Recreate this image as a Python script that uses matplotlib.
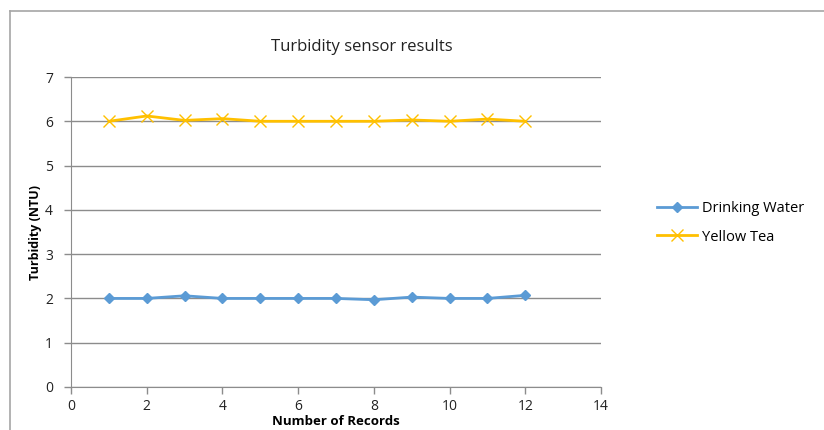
import matplotlib
matplotlib.use("Agg")
import matplotlib.pyplot as plt
from matplotlib.lines import Line2D

records = [1, 2, 3, 4, 5, 6, 7, 8, 9, 10, 11, 12]
drinking_water = [2.0, 2.0, 2.06, 2.0, 2.0, 2.0, 2.0, 1.97, 2.03, 2.0, 2.0, 2.07]
yellow_tea = [6.0, 6.12, 6.02, 6.06, 6.0, 6.0, 6.0, 6.0, 6.03, 6.0, 6.05, 6.0]

plt.rcParams['font.family'] = ['Open Sans', 'DejaVu Sans']

fig = plt.figure(figsize=(8.24, 4.30), dpi=100)
ax = fig.add_axes([71/824, 1 - 387/430, 530/824, 310/430])

ax.plot(records, drinking_water, color='#5b9bd5', marker='D', markersize=5,
        linewidth=2, label='Drinking Water')
ax.plot(records, yellow_tea, color='#ffc000', marker='x', markersize=8,
        markeredgewidth=1.0, linewidth=2, label='Yellow Tea')

ax.set_xlim(0, 14)
ax.set_ylim(0, 7)
ax.set_xticks(range(0, 15, 2))
ax.set_yticks(range(0, 8))
ax.yaxis.grid(True, color='#8c8c8c', linewidth=1)
ax.set_axisbelow(True)
for s in ['top', 'right']:
    ax.spines[s].set_visible(False)
for s in ['left', 'bottom']:
    ax.spines[s].set_color('#8c8c8c')
ax.tick_params(axis='both', colors='#8c8c8c', labelcolor='#222222',
               labelsize=10, length=5, width=1)
ax.tick_params(axis='y', pad=8)

ax.set_xlabel('Number of Records', fontsize=9.5, fontweight='bold', labelpad=1)
ax.set_ylabel('Turbidity (NTU)', fontsize=9, fontweight='bold', labelpad=2)

fig.text(362/824, 1 - 47/430, 'Turbidity sensor results', fontsize=12,
         ha='center', va='center', color='#222222')

ax.legend(loc='center left', bbox_to_anchor=(644/824, 1 - 223/430),
          bbox_transform=fig.transFigure, frameon=False, fontsize=10.5,
          handlelength=2.7, labelspacing=0.9, handletextpad=0.35)

# outer chart frame
fig.add_artist(Line2D([10/824, 10/824], [0, 1 - 11/430], color='#a6a6a6',
                      linewidth=1.2, transform=fig.transFigure))
fig.add_artist(Line2D([10/824, 1], [1 - 11/430, 1 - 11/430], color='#a6a6a6',
                      linewidth=1.2, transform=fig.transFigure))

fig.savefig('out.png', dpi=100)
